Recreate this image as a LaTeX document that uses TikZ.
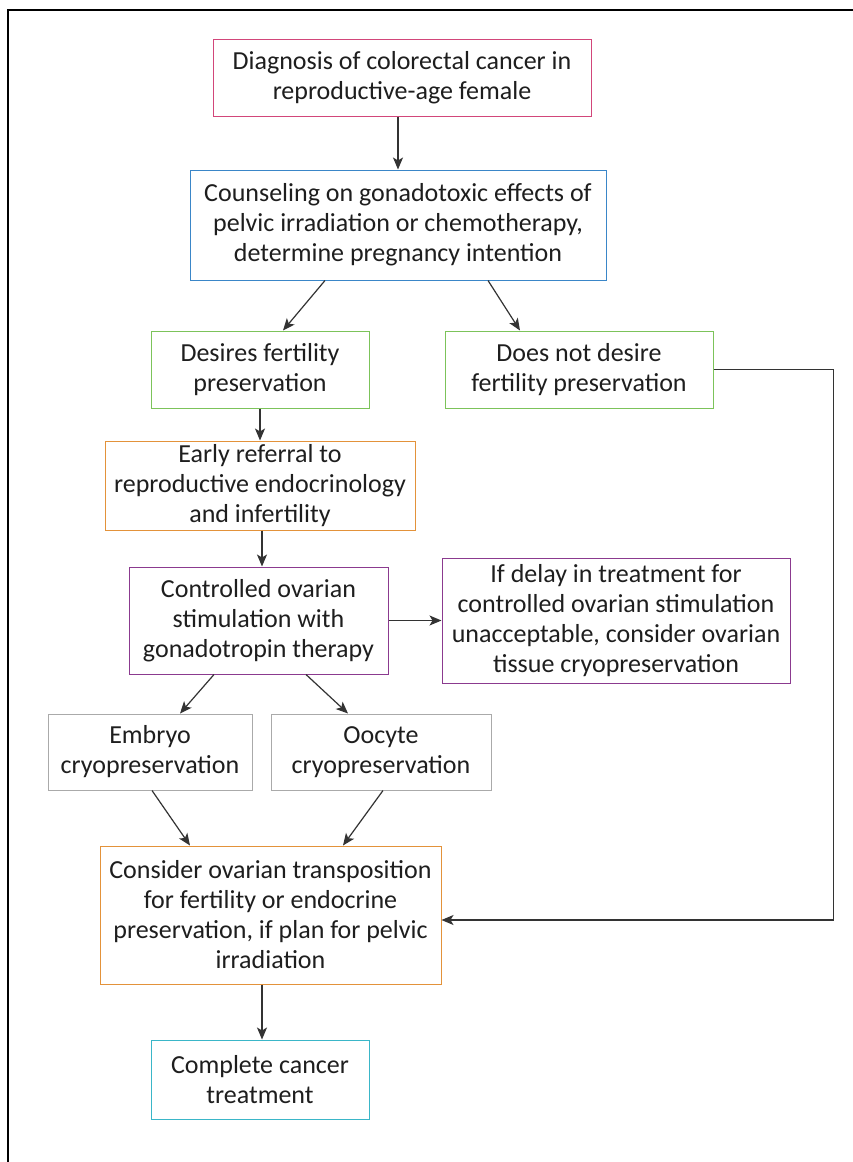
\documentclass[tikz,border=0pt]{standalone}
\usepackage{fontspec}
\setmainfont{Carlito}
\usetikzlibrary{arrows.meta}
\definecolor{cpink}{HTML}{D2467A}
\definecolor{cblue}{HTML}{3A86C8}
\definecolor{cgreen}{HTML}{7CC35A}
\definecolor{corange}{HTML}{E3923A}
\definecolor{cpurple}{HTML}{8B3A8F}
\definecolor{cgray}{HTML}{AAAAAA}
\definecolor{cteal}{HTML}{3AB6C8}
\definecolor{ctext}{HTML}{1E1E1E}
\definecolor{cline}{HTML}{333333}
\tikzset{
  box/.style={draw, line width=1pt, rectangle, align=center, inner sep=0pt,
    text=ctext, font=\fontsize{26}{30}\selectfont, anchor=center},
  arr/.style={draw=cline, line width=1.2pt, -{Stealth[length=12pt,width=10pt,inset=3pt]}},
}
\begin{document}
\begin{tikzpicture}[x=1pt,y=-1pt]
\useasboundingbox (0,0) rectangle (853,1162);
\fill[white] (0,0) rectangle (853,1162);
\draw[line width=2pt, black] (8,1170) -- (8,9.5) -- (860,9.5);

\node[box, draw=cpink, minimum width=378pt, minimum height=77pt] (b1) at (402,77.5)
  {Diagnosis of colorectal cancer in\\reproductive-age female};
\node[box, draw=cblue, minimum width=416pt, minimum height=110pt] (b2) at (398,225)
  {Counseling on gonadotoxic effects of\\pelvic irradiation or chemotherapy,\\determine pregnancy intention};
\node[box, draw=cgreen, minimum width=218pt, minimum height=77pt] (b3) at (260,369.5)
  {Desires fertility\\preservation};
\node[box, draw=cgreen, minimum width=268pt, minimum height=77pt] (b4) at (579,369.5)
  {Does not desire\\fertility preservation};
\node[box, draw=corange, minimum width=310pt, minimum height=89pt] (b5) at (260,485.5)
  {Early referral to\\reproductive endocrinology\\and infertility};
\node[box, draw=cpurple, minimum width=259pt, minimum height=107pt] (b6) at (258.5,620.5)
  {Controlled ovarian\\stimulation with\\gonadotropin therapy};
\node[box, draw=cpurple, minimum width=348pt, minimum height=125pt] (b7) at (616,620.5)
  {If delay in treatment for\\controlled ovarian stimulation\\unacceptable, consider ovarian\\tissue cryopreservation};
\node[box, draw=cgray, minimum width=204pt, minimum height=76pt] (b8) at (150,752)
  {Embryo\\cryopreservation};
\node[box, draw=cgray, minimum width=220pt, minimum height=76pt] (b9) at (381,752)
  {Oocyte\\cryopreservation};
\node[box, draw=corange, minimum width=341pt, minimum height=138pt] (b10) at (270.5,915)
  {Consider ovarian transposition\\for fertility or endocrine\\preservation, if plan for pelvic\\irradiation};
\node[box, draw=cteal, minimum width=218pt, minimum height=79pt] (b11) at (260,1079.5)
  {Complete cancer\\treatment};

\draw[arr] (b1.south -| b2.north) -- (b2.north);
\draw[arr] ([xshift=-73pt]b2.south) -- ([xshift=23pt]b3.north);
\draw[arr] ([xshift=90pt]b2.south) -- ([xshift=-59pt]b4.north);
\draw[arr] (b3.south) -- (b5.north);
\draw[arr] ([xshift=2pt]b5.south) -- ([xshift=2pt]b5.south |- b6.north);
\draw[arr] (b6.east) -- (b6.east -| b7.west);
\draw[arr] ([xshift=-44.5pt]b6.south) -- ([xshift=30pt]b8.north);
\draw[arr] ([xshift=47.5pt]b6.south) -- ([xshift=-33pt]b9.north);
\draw[arr] ([xshift=2pt]b8.south) -- ([xshift=-80.5pt]b10.north);
\draw[arr] ([xshift=2pt]b9.south) -- ([xshift=72.5pt]b10.north);
\draw[arr] (b4.east) -- ++(120,0) |- ([yshift=-5pt]b10.east);
\draw[arr] ([xshift=-8.5pt]b10.south) -- ([xshift=-8.5pt]b10.south |- b11.north);
\end{tikzpicture}
\end{document}
